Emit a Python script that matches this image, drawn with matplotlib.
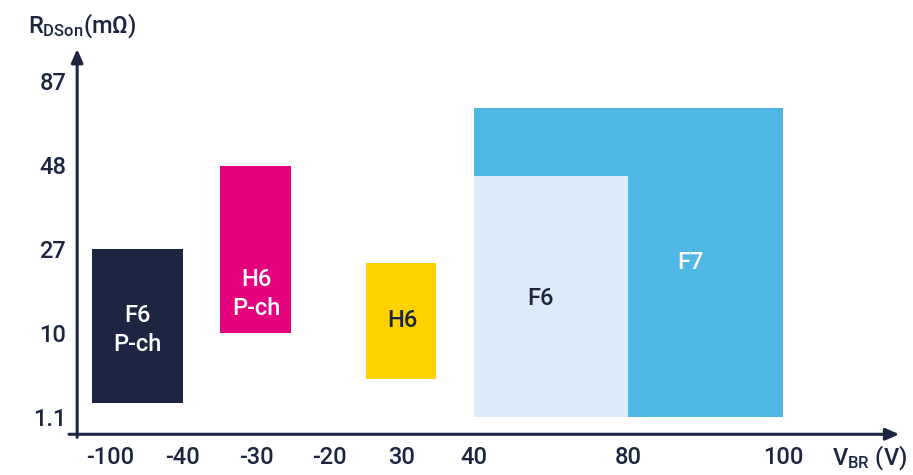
import matplotlib.pyplot as plt
from matplotlib.patches import Rectangle

# axis ticks (schematic, evenly spaced categories)
x_ticks = ["-100", "-40", "-30", "-20", "30", "40", "80", "100"]
x_pos = [0, 1, 2, 3, 4, 4.99, 7.1, 9.22]
y_ticks = ["1.1", "10", "27", "48", "87"]
y_pos = [0, 1, 2, 3, 4]

# product families: (x0, x1, y0, y1) in axis units
labels = ["F7", "F6", "F6\nP-ch", "H6\nP-ch", "H6"]
x0 = [4.99, 4.99, -0.25, 1.51, 3.51]
x1 = [9.22, 7.1, 1.0, 2.48, 4.47]
y0 = [0.04, 0.04, 0.2, 1.04, 0.49]
y1 = [3.71, 2.9, 2.04, 3.02, 1.87]
colors = ["#4fb7e5", "#dcebf8", "#1c2541", "#e5007e", "#ffd200"]
text_colors = ["white", "#1c2541", "white", "white", "#1c2541"]
text_x = [7.95, 5.9, 0.37, 2.0, 4.0]
text_y = [1.87, 1.45, 1.07, 1.5, 1.18]

navy = "#1c2541"
font = "Roboto"

fig = plt.figure(figsize=(9.13, 4.75), dpi=100)
ax = fig.add_axes([0, 0, 1, 1])
ax.set_xlim(-110 / 73, 803 / 73)
ax.set_ylim(-55 / 84, 420 / 84)
ax.axis("off")

for i in range(len(labels)):
    ax.add_patch(Rectangle((x0[i], y0[i]), x1[i] - x0[i], y1[i] - y0[i],
                           color=colors[i], lw=0))
    ax.text(text_x[i], text_y[i], labels[i], color=text_colors[i],
            ha="center", va="center", fontsize=17, family=font,
            fontweight="medium", linespacing=1.35)

# axes with arrows
ax.annotate("", xy=(10.85, -0.17), xytext=(-0.6, -0.17),
            arrowprops=dict(arrowstyle="-|>,head_length=0.8,head_width=0.35",
                            color=navy, lw=2.2))
ax.annotate("", xy=(-0.45, 4.45), xytext=(-0.45, -0.24),
            arrowprops=dict(arrowstyle="-|>,head_length=0.8,head_width=0.35",
                            color=navy, lw=2.2))

for p, t in zip(x_pos, x_ticks):
    ax.text(p, -0.45, t, ha="center", va="center", fontsize=17,
            color=navy, family=font, fontweight="medium")
for p, t in zip(y_pos, y_ticks):
    ax.text(-0.6, p, t, ha="right", va="center", fontsize=17,
            color=navy, family=font, fontweight="medium")

ax.text(-1.12, 4.7, r"$\mathregular{R_{DSon}}$(mΩ)", ha="left", va="center",
        fontsize=17, color=navy, family=font, fontweight="medium")
ax.text(10.4, -0.45, r"$\mathregular{V_{BR}}$ (V)", ha="center", va="center",
        fontsize=17, color=navy, family=font, fontweight="medium")

fig.savefig("out.png", dpi=100)
